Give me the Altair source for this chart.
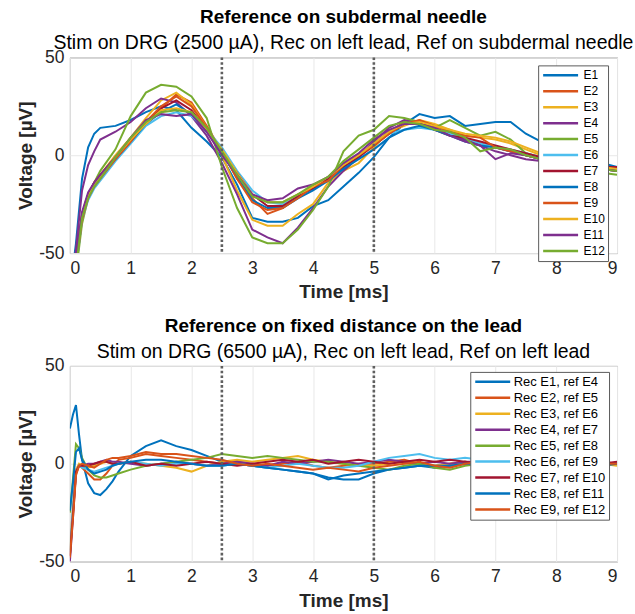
import altair as alt
import pandas as pd

# ---------------- data ----------------
T_TOP = [0, 0.1, 0.2, 0.3, 0.4, 0.5, 0.75, 1.0, 1.25, 1.5, 1.75, 2.0, 2.25, 2.5,
         2.75, 3.0, 3.25, 3.5, 3.75, 4.0, 4.25, 4.5, 4.75, 5.0, 5.25, 5.5, 5.75,
         6.0, 6.25, 6.5, 6.75, 7.0, 7.25, 7.5, 7.75, 8.0, 8.25, 8.5, 8.75, 9.0]

TOP_NAMES = ["E1", "E2", "E3", "E4", "E5", "E6", "E7", "E8", "E9", "E10", "E11", "E12"]

E1 = [-70, -45, -12, 4, 11, 14, 15, 18, 22, 25, 23, 14, 7, -1, -15, -32, -34, -34, -32, -26,
      -23, -16, -9, -1, 9, 16, 21, 19, 20, 15, 16, 17, 17, 11, 7, 3, 0, -3, -4, -6]
E2 = [-80, -52, -32, -22, -16, -12, -2, 7, 16, 24, 31, 27, 15, 2, -12, -22, -30, -27, -20, -17,
      -12, -6, 0, 6, 12, 17, 16, 14, 11, 8, 6, 4, 2, 0, -2, -4, -5, -6, -7, -7]
E3 = [-85, -55, -30, -20, -14, -10, 0, 9, 19, 28, 32, 26, 14, 0, -18, -33, -36, -36, -30, -25,
      -14, -8, -4, 4, 12, 15, 18, 16, 13, 10, 9, 8, 6, 3, 0, -2, -4, -5, -6, -7]
E4 = [-75, -48, -18, -5, 2, 8, 12, 17, 24, 29, 27, 20, 10, -4, -20, -38, -42, -45, -37, -27,
      -16, -8, -1, 7, 14, 18, 17, 14, 11, 8, 5, 2, 0, -2, -3, -4, -5, -5, -6, -6]
E5 = [-90, -60, -35, -22, -14, -8, 3, 20, 32, 36, 35, 30, 19, -6, -27, -42, -45, -45, -38, -28,
      -16, 2, 10, 13, 20, 19, 17, 14, 18, 14, 10, 12, 8, 1, -1, -3, -5, -7, -9, -10]
E6 = [-88, -58, -33, -23, -17, -13, -3, 6, 15, 20, 22, 20, 13, 4, -8, -18, -24, -25, -21, -16,
      -11, -6, 0, 5, 11, 13, 14, 13, 11, 9, 6, 4, 3, 1, -1, -3, -4, -6, -6, -7]
E7 = [-82, -54, -30, -20, -14, -10, -1, 8, 17, 24, 28, 23, 13, 2, -9, -20, -26, -26, -21, -17,
      -12, -6, -1, 5, 11, 16, 17, 13, 10, 9, 7, 5, 3, 1, -1, -3, -4, -5, -6, -6]
E8 = [-84, -55, -31, -21, -15, -11, -2, 7, 16, 22, 26, 21, 12, 1, -11, -23, -27, -27, -22, -18,
      -13, -7, -2, 3, 9, 13, 15, 13, 10, 7, 5, 4, 2, 0, -2, -3, -5, -6, -7, -8]
E9 = [-86, -57, -33, -22, -16, -12, -2, 7, 17, 25, 30, 25, 14, 2, -12, -24, -28, -27, -22, -16,
      -13, -5, 0, 5, 11, 16, 18, 15, 12, 10, 9, 4, 2, 0, -2, -4, -5, -6, -7, -8]
E10 = [-83, -55, -31, -21, -15, -11, -1, 8, 16, 23, 24, 22, 13, 3, -9, -20, -24, -24, -20, -16,
       -11, -5, 0, 6, 12, 16, 17, 15, 13, 11, 10, 9, 7, 4, 1, -1, -3, -5, -6, -7]
E11 = [-80, -52, -29, -19, -14, -10, -1, 9, 18, 21, 20, 21, 12, 0, -10, -20, -23, -22, -17, -15,
       -11, -4, 1, 8, 13, 16, 16, 14, 10, 7, 5, -2, 1, 0, -2, -4, -5, -6, -7, -8]
E12 = [-87, -58, -32, -22, -16, -12, -1, 9, 17, 22, 23, 22, 14, 2, -10, -21, -24, -24, -20, -15,
       -11, -3, 3, 9, 15, 17, 16, 13, 12, 9, 2, 4, 3, 0, -2, -4, -5, -6, -7, -8]
TOP_VALUES = [E1, E2, E3, E4, E5, E6, E7, E8, E9, E10, E11, E12]

T_BOT = [0, 0.05, 0.1, 0.15, 0.2, 0.3, 0.4, 0.5, 0.6, 0.7, 0.8, 1.0, 1.25, 1.5, 1.75,
         2.0, 2.25, 2.5, 2.75, 3.0, 3.25, 3.5, 3.75, 4.0, 4.25, 4.5, 4.75, 5.0, 5.25,
         5.5, 5.75, 6.0, 6.25, 6.5, 6.75, 7.0, 7.25, 7.5, 7.75, 8.0, 8.25, 8.5, 8.75, 9.0]

BOT_NAMES = ["Rec E1, ref E4", "Rec E2, ref E5", "Rec E3, ref E6", "Rec E4, ref E7",
             "Rec E5, ref E8", "Rec E6, ref E9", "Rec E7, ref E10", "Rec E8, ref E11",
             "Rec E9, ref E12"]

R1 = [18, 25, 30, 15, 2, -10, -15, -16, -13, -9, -4, 4, 9, 12, 9, 7, 4, 1, 0, -1, -2, -3,
      -4, -5, -7, -8, -8, -5, -3, -2, -1, -2, -1, 0, 1, 1, 0, 0, 0, 0, 0, 0, 0, 0]
R2 = [-47, -25, -5, -1, -2, -5, -8, -8, -5, -1, 2, 3, 5, 4, 3, 2, 1, 0, 1, 0, -1, 0, 1, -1,
      -2, -1, 0, 0, 1, 2, 0, -1, 0, 1, 0, 0, -1, 0, 0, 0, 0, 1, 0, 0]
R3 = [-44, -22, -3, 0, -1, -2, -1, 0, 1, 0, 0, 1, 0, -1, -2, -4, -1, 1, 2, 1, 2, 3, 4, 2,
      1, 0, -1, -1, 0, 1, 0, -1, 0, 1, 0, 0, 1, 0, 0, 0, 0, 0, 0, -1]
R4 = [-50, -28, -5, -1, -1, 0, 0, 1, 2, 1, 1, 0, -1, 0, 1, 0, -1, 0, 1, 0, -1, 1, 0, 1,
      2, 1, 0, 1, 2, 1, 0, 1, 0, 1, 1, 0, 0, 0, 1, 0, 0, 1, 1, 0]
R5 = [-25, -8, 10, 8, 3, -3, -6, -7, -7, -6, -5, -3, -1, 0, 1, 2, 3, 5, 4, 3, 4, 3, 2, 1,
      1, 0, -1, -2, -3, -1, 0, -2, -3, -1, 0, 0, 1, 0, 0, 0, 1, 0, 0, 0]
R6 = [-45, -22, -4, -1, -2, -3, -4, -3, -2, -1, 0, 1, 0, -1, 0, 0, -1, -1, 0, -1, -2, -1,
      0, -1, -2, -2, -1, 1, 3, 4, 5, 3, 2, 3, 2, 2, 1, 1, 0, 1, 0, 0, 0, 0]
R7 = [-47, -26, -4, -1, -1, -1, 0, 1, 1, 0, 0, 1, -1, 0, -1, 0, 1, 0, -1, 0, 1, 2, 1, 2,
      0, 1, 2, 1, 0, 1, 2, 1, 2, 1, 0, 1, 0, 0, 0, 0, 1, 0, 0, 1]
R8 = [-24, -10, 6, 8, 2, -3, -5, -4, -3, -1, 0, 1, 2, 2, 1, 0, -1, -1, 0, -1, -2, -3, -4,
      -5, -8, -6, -5, -4, -3, -2, -1, -1, -1, 0, 0, 1, 0, 1, 0, -1, 0, 0, -1, 0]
R9 = [-48, -28, -6, -1, 0, -1, -2, 0, 2, 3, 3, 4, 6, 5, 5, 4, 3, 2, 0, -1, 0, -1, -2, -3,
      -2, -3, -4, -2, -1, 0, 1, -1, -2, 0, 1, 0, 0, 0, 0, -1, 0, 0, 0, 0]
BOT_VALUES = [R1, R2, R3, R4, R5, R6, R7, R8, R9]

MATLAB = ["#0072BD", "#D95319", "#EDB120", "#7E2F8E", "#77AC30", "#4DBEEE", "#A2142F"]
TOP_COLORS = [MATLAB[i % 7] for i in range(12)]
BOT_COLORS = [MATLAB[i % 7] for i in range(9)]

X_TICKS = [0, 1, 2, 3, 4, 5, 6, 7, 8, 9]
Y_TICKS = [-50, 0, 50]
MARKERS = [2.5, 5.0]

FONT = "Liberation Sans"


def long_frame(times, names, values):
    rows = []
    for k, (n, vals) in enumerate(zip(names, values)):
        for t, v in zip(times, vals):
            rows.append({"t": t, "v": v, "series": n, "k": k})
    return pd.DataFrame(rows)


def panel(df, names, colors, title, subtitle, lx, ly, sym, lab_off, lab_size):
    x = alt.X("t:Q", scale=alt.Scale(domain=[0, 9], nice=False, zero=False),
              axis=alt.Axis(values=X_TICKS, title="Time [ms]",
                            labelExpr="'' + datum.value"))
    y = alt.Y("v:Q", scale=alt.Scale(domain=[-50, 50], nice=False),
              axis=alt.Axis(values=Y_TICKS, title="Voltage [µV]",
                            labelExpr="'' + datum.value"))
    lines = alt.Chart(df).mark_line(clip=True, strokeWidth=2).encode(
        x=x, y=y,
        color=alt.Color("series:N", sort=names,
                        scale=alt.Scale(domain=names, range=colors),
                        legend=alt.Legend(
                            orient="none", legendX=lx, legendY=ly, title=None,
                            symbolType="stroke", symbolSize=sym * sym,
                            symbolStrokeWidth=2.5, clipHeight=13.7, rowPadding=2,
                            padding=3, symbolOffset=0.5, labelOffset=lab_off,
                            labelFont=FONT, labelFontSize=lab_size,
                            labelColor="black", labelLimit=300,
                            fillColor="white", strokeColor="#5a5a5a",
                            zindex=5)),
        order=alt.Order("k:Q"),
    )
    rules = alt.Chart(pd.DataFrame({"x": MARKERS})).mark_rule(
        color="#5f5f5f", strokeWidth=2.6, strokeDash=[2.6, 2.2]
    ).encode(x="x:Q")
    return alt.layer(lines, rules).properties(
        width=548, height=196,
        title=alt.Title(title, subtitle=subtitle, anchor="middle",
                        font=FONT, fontSize=19, fontWeight="bold", color="black",
                        subtitleFont=FONT, subtitleFontSize=19.5,
                        subtitleColor="black", subtitlePadding=7, offset=-4.5),
    )


top = panel(long_frame(T_TOP, TOP_NAMES, TOP_VALUES), TOP_NAMES, TOP_COLORS,
            "Reference on subdermal needle",
            "Stim on DRG (2500 µA), Rec on left lead, Ref on subdermal needle",
            469, 8, 35, 4, 12)
bot = panel(long_frame(T_BOT, BOT_NAMES, BOT_VALUES), BOT_NAMES, BOT_COLORS,
            "Reference on fixed distance on the lead",
            "Stim on DRG (6500 µA), Rec on left lead, Ref on left lead",
            401, 6, 35, 2, 13)

chart = alt.vconcat(top, bot, spacing=14).resolve_scale(color="independent").properties(
    padding={"left": 16, "top": 7, "right": 0, "bottom": 0}
).configure_view(
    stroke="#7a7a7a", strokeWidth=1
).configure_axis(
    labelFont=FONT, labelFontSize=17.5, labelColor="#262626",
    titleFont=FONT, titleFontSize=19, titleFontWeight="bold", titleColor="#262626",
    ticks=False, tickSize=0, domain=False, grid=True, gridColor="#e8e8e8",
    gridWidth=1, labelPadding=6, titlePadding=6,
).configure_axisY(labelPadding=6, titlePadding=3)

chart.save("out.html", embed_options={"renderer": "svg", "actions": False})
